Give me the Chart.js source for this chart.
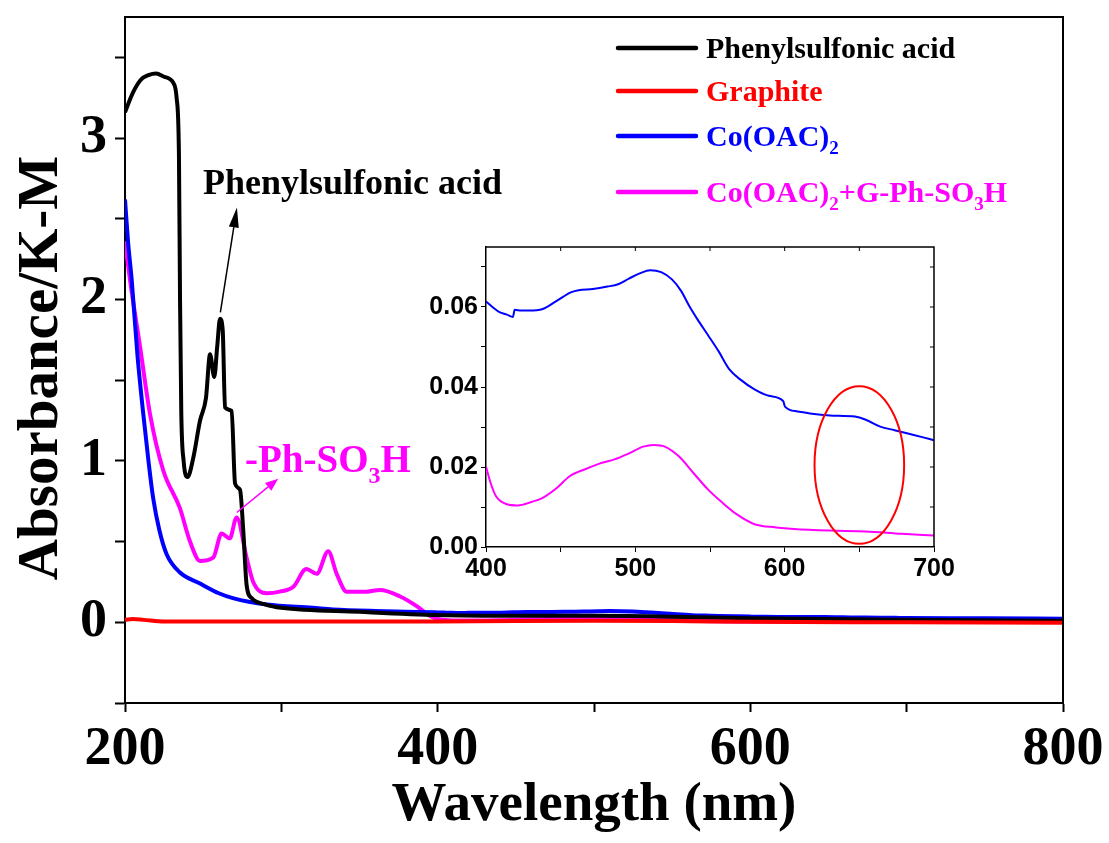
<!DOCTYPE html>
<html>
<head>
<meta charset="utf-8">
<script src="https://cdn.jsdelivr.net/npm/chart.js@4.4.1/dist/chart.umd.min.js"></script>
<style>
  html, body { margin: 0; padding: 0; background: #fff; }
  #wrap { position: relative; width: 1109px; height: 843px; }
  #main { position: absolute; left: 0; top: 0; }
  #inset { position: absolute; left: 400px; top: 240px; }
</style>
</head>
<body>
<div id="wrap">
  <canvas id="main" width="1109" height="843"></canvas>
  <canvas id="inset" width="560" height="347"></canvas>
</div>
<script>
// Phenylsulfonic acid (black)
const blackWl  = [200, 205, 210, 215, 220, 225, 231, 233, 234.5, 235.2, 236, 237.5, 240, 243.7, 248, 251.8, 254.4, 257.1, 259, 260.8, 262.5, 264, 268.2, 270.4, 273.6, 275.7, 277.8, 281, 290, 300, 350, 400, 450, 500, 550, 600, 700, 800]
const blackAbs = [3.16, 3.28, 3.36, 3.39, 3.40, 3.38, 3.34, 3.25, 2.9, 2.0, 1.3, 1.0, 0.90, 1.02, 1.25, 1.39, 1.66, 1.52, 1.71, 1.88, 1.81, 1.33, 1.31, 0.86, 0.82, 0.56, 0.23, 0.15, 0.11, 0.09, 0.065, 0.045, 0.04, 0.04, 0.035, 0.025, 0.015, 0.01]

// Graphite (red)
const redWl  = [200, 205, 212, 225, 300, 400, 500, 550, 600, 700, 800]
const redAbs = [0.015, 0.02, 0.015, 0.005, 0.005, 0.005, 0.01, 0.008, 0.003, 0.0, -0.003]

// Co(OAC)2 (blue), UV part + visible part (inset) + tail
const blueUvWl  = [200, 202, 204.3, 208, 211.7, 215, 218, 222, 226.7, 235, 248, 260, 269, 290.6, 320, 333, 360, 397]
const blueUvAbs = [2.62, 2.35, 2.12, 1.65, 1.29, 1.0, 0.77, 0.57, 0.42, 0.31, 0.24, 0.18, 0.15, 0.11, 0.09, 0.08, 0.07, 0.062]
const blueVisWl  = [400, 404.3, 409, 414, 418, 419.2, 423.6, 428.4, 438, 447.6, 457.2, 462, 471.6, 481.3, 488.5, 495.7, 502.9, 510, 517.3, 524.5, 530.5, 536.5, 541.3, 548.6, 555.8, 563, 570.2, 579.8, 589.4, 599, 600.2, 608.7, 618.3, 630.3, 647.1, 654.3, 664, 673.6, 683.2, 692.8, 700]
const blueVisAbs = [0.0614, 0.0600, 0.0587, 0.0581, 0.0575, 0.0593, 0.0591, 0.0591, 0.0595, 0.0616, 0.0637, 0.0642, 0.0645, 0.0651, 0.0657, 0.0671, 0.0684, 0.0692, 0.0687, 0.0669, 0.0641, 0.0600, 0.0571, 0.0530, 0.0489, 0.0444, 0.0419, 0.0394, 0.0378, 0.0365, 0.0351, 0.0339, 0.0333, 0.0329, 0.0326, 0.0318, 0.0301, 0.0292, 0.0283, 0.0274, 0.0267]
const blueTailWl  = [750, 800]
const blueTailAbs = [0.025, 0.022]

// Co(OAC)2+G-Ph-SO3H (magenta)
const magUvWl  = [200, 203.2, 209.6, 216, 224.5, 235, 241.6, 248, 256.4, 261.8, 267, 271.4, 277.8, 282, 290.6, 299, 307.7, 316, 322.6, 330, 335.4, 341.8, 354.6, 363, 376, 386.6, 395]
const magUvAbs = [2.36, 2.12, 1.71, 1.29, 0.94, 0.71, 0.50, 0.38, 0.40, 0.55, 0.52, 0.65, 0.40, 0.25, 0.18, 0.19, 0.22, 0.33, 0.30, 0.44, 0.30, 0.19, 0.19, 0.20, 0.16, 0.10, 0.04]
const magVisWl  = [400, 403.1, 406.7, 414, 421, 430.8, 438, 447.6, 456, 466.8, 476.4, 486, 495.7, 505.3, 512.5, 519.7, 529.3, 538.9, 548.6, 558.2, 567.8, 579.8, 594.2, 606.2, 630.3, 654.3, 678.4, 700]
const magVisAbs = [0.0201, 0.0160, 0.0127, 0.0107, 0.0104, 0.0113, 0.0123, 0.0148, 0.0177, 0.0195, 0.0209, 0.0219, 0.0234, 0.0251, 0.0255, 0.0251, 0.0226, 0.0185, 0.0144, 0.0111, 0.0082, 0.0057, 0.0049, 0.0045, 0.0041, 0.0039, 0.0033, 0.0029]
const magTailWl  = [750, 800]
const magTailAbs = [0.003, 0.002]

// axis ticks
const mainXLabels = [200, 400, 600, 800]
const mainYLabels = [0, 1, 2, 3]
const insetXLabels = [400, 500, 600, 700]
const insetYLabels = [0, 0.02, 0.04, 0.06]

const legendItems = [
  { color: '#000000', parts: [['Phenylsulfonic acid']] },
  { color: '#ff0000', parts: [['Graphite']] },
  { color: '#0000ff', parts: [['Co(OAC)'], ['2', 'sub']] },
  { color: '#ff00ff', parts: [['Co(OAC)'], ['2', 'sub'], ['+G-Ph-SO'], ['3', 'sub'], ['H']] }
]

const SERIF = '"Liberation Serif", "Times New Roman", serif'
const SANS = '"Liberation Sans", Arial, sans-serif'

function pts(xs, ys) { return xs.map((x, i) => ({ x: x, y: ys[i] })) }

function drawRich(ctx, parts, x, y, size, color) {
  ctx.fillStyle = color
  ctx.textBaseline = 'alphabetic'
  ctx.textAlign = 'left'
  for (const p of parts) {
    if (p[1] === 'sub') {
      ctx.font = 'bold ' + Math.round(size * 0.62) + 'px ' + SERIF
      ctx.fillText(p[0], x, y + size * 0.28)
    } else {
      ctx.font = 'bold ' + size + 'px ' + SERIF
      ctx.fillText(p[0], x, y)
    }
    x += ctx.measureText(p[0]).width
  }
}

function drawArrow(ctx, x1, y1, x2, y2, color, lw, headLen, headW) {
  const a = Math.atan2(y2 - y1, x2 - x1)
  const bx = x2 - headLen * Math.cos(a), by = y2 - headLen * Math.sin(a)
  ctx.strokeStyle = color; ctx.fillStyle = color; ctx.lineWidth = lw
  ctx.beginPath(); ctx.moveTo(x1, y1); ctx.lineTo(bx, by); ctx.stroke()
  ctx.beginPath()
  ctx.moveTo(x2, y2)
  ctx.lineTo(bx + headW * Math.sin(a), by - headW * Math.cos(a))
  ctx.lineTo(bx - headW * Math.sin(a), by + headW * Math.cos(a))
  ctx.closePath(); ctx.fill()
}

function noPad(s) { s.paddingTop = 0; s.paddingBottom = 0; s.paddingLeft = 0; s.paddingRight = 0 }

const mainDecor = {
  id: 'mainDecor',
  afterDraw(chart) {
    const { ctx, chartArea: ca, scales: { x, y } } = chart
    ctx.save()
    // frame top + right
    ctx.strokeStyle = '#000'; ctx.lineWidth = 2
    ctx.beginPath()
    ctx.moveTo(ca.left, ca.top); ctx.lineTo(ca.right, ca.top); ctx.lineTo(ca.right, ca.bottom)
    ctx.stroke()
    // y axis title
    ctx.save()
    ctx.translate(57, 368); ctx.rotate(-Math.PI / 2)
    ctx.font = 'bold 57px ' + SERIF
    ctx.fillStyle = '#000'; ctx.textAlign = 'center'; ctx.textBaseline = 'alphabetic'
    ctx.fillText('Absorbance/K-M', 0, 0)
    ctx.restore()
    // annotations
    drawArrow(ctx, x.getPixelForValue(261), y.getPixelForValue(1.92), x.getPixelForValue(271.6), y.getPixelForValue(2.57), '#000', 1.5, 20, 5)
    drawRich(ctx, [['Phenylsulfonic acid']], 203, 194, 36, '#000')
    drawArrow(ctx, x.getPixelForValue(271.5), y.getPixelForValue(0.68), x.getPixelForValue(298), y.getPixelForValue(0.89), '#ff00ff', 1.5, 13, 5)
    drawRich(ctx, [['-Ph-SO'], ['3', 'sub'], ['H']], 245, 472, 39, '#ff00ff')
    // legend
    const rowY = [48, 91, 136, 192]
    legendItems.forEach((it, i) => {
      ctx.strokeStyle = it.color; ctx.lineWidth = 4.5; ctx.lineCap = 'round'
      ctx.beginPath(); ctx.moveTo(618, rowY[i]); ctx.lineTo(696, rowY[i]); ctx.stroke()
      drawRich(ctx, it.parts, 706, rowY[i] + 10, 30, it.color)
    })
    ctx.restore()
  }
}

const insetDecor = {
  id: 'insetDecor',
  afterDraw(chart) {
    const { ctx, chartArea: ca, scales: { x, y } } = chart
    ctx.save()
    ctx.strokeStyle = '#000'; ctx.lineWidth = 1.5
    ctx.beginPath()
    ctx.moveTo(ca.left, ca.top); ctx.lineTo(ca.right, ca.top); ctx.lineTo(ca.right, ca.bottom)
    ctx.stroke()
    // inward ticks on top and right
    ctx.lineWidth = 1
    ctx.beginPath()
    for (let v = 450; v < 700; v += 50) {
      const px = x.getPixelForValue(v)
      ctx.moveTo(px, ca.top); ctx.lineTo(px, ca.top + 4)
    }
    for (let v = 0.01; v < 0.075; v += 0.01) {
      const py = y.getPixelForValue(v)
      ctx.moveTo(ca.right, py); ctx.lineTo(ca.right - 4, py)
    }
    ctx.stroke()
    // red ellipse around 650 nm
    const cx = x.getPixelForValue(650), cy = y.getPixelForValue(0.0205)
    const rx = x.getPixelForValue(680) - cx, ry = cy - y.getPixelForValue(0.0402)
    ctx.strokeStyle = '#ff0000'; ctx.lineWidth = 2
    ctx.beginPath(); ctx.ellipse(cx, cy, rx, ry, 0, 0, Math.PI * 2); ctx.stroke()
    ctx.restore()
  }
}

function line(data, color, w) {
  return { data: data, borderColor: color, borderWidth: w, pointRadius: 0, fill: false, cubicInterpolationMode: 'monotone' }
}

new Chart(document.getElementById('main'), {
  type: 'line',
  data: {
    datasets: [
      line(pts(redWl, redAbs), '#ff0000', 4),
      line(pts(blackWl, blackAbs), '#000000', 4),
      line(pts(blueUvWl.concat(blueVisWl, blueTailWl), blueUvAbs.concat(blueVisAbs, blueTailAbs)), '#0000ff', 4),
      line(pts(magUvWl.concat(magVisWl, magTailWl), magUvAbs.concat(magVisAbs, magTailAbs)), '#ff00ff', 4)
    ]
  },
  options: {
    responsive: false, animation: false, devicePixelRatio: 1,
    layout: { padding: { top: 17, right: 46, left: 0, bottom: 0 } },
    plugins: { legend: { display: false }, tooltip: { enabled: false } },
    scales: {
      x: {
        type: 'linear', min: 200, max: 800,
        afterFit(s) { s.height = 140; noPad(s) },
        border: { display: true, color: '#000', width: 2 },
        grid: { drawOnChartArea: false, color: '#000', tickLength: 9, tickWidth: 2 },
        ticks: {
          stepSize: 100, includeBounds: false, padding: 6, color: '#000', maxRotation: 0, autoSkip: false,
          font: { family: SERIF, size: 54, weight: 'bold' },
          callback: v => mainXLabels.includes(v) ? String(v) : ''
        },
        title: { display: true, text: 'Wavelength (nm)', color: '#000', padding: { top: 14 }, font: { family: SERIF, size: 55, weight: 'bold' } }
      },
      y: {
        type: 'linear', min: -0.5, max: 3.75,
        afterFit(s) { s.width = 125; noPad(s) },
        border: { display: true, color: '#000', width: 2 },
        grid: { drawOnChartArea: false, color: '#000', tickLength: 10, tickWidth: 2 },
        ticks: {
          stepSize: 0.5, includeBounds: false, padding: 8, color: '#000',
          font: { family: SERIF, size: 54, weight: 'bold' },
          callback: v => mainYLabels.includes(v) ? String(v) : ''
        }
      }
    }
  },
  plugins: [mainDecor]
})

new Chart(document.getElementById('inset'), {
  type: 'line',
  data: {
    datasets: [
      line(pts(blueVisWl, blueVisAbs), '#0000ff', 2),
      line(pts(magVisWl, magVisAbs), '#ff00ff', 2)
    ]
  },
  options: {
    responsive: false, animation: false, devicePixelRatio: 1,
    layout: { padding: { top: 7, right: 26, left: 0, bottom: 0 } },
    plugins: { legend: { display: false }, tooltip: { enabled: false } },
    scales: {
      x: {
        type: 'linear', min: 400, max: 700,
        afterFit(s) { s.height = 40; noPad(s) },
        border: { display: true, color: '#000', width: 1.5 },
        grid: { drawOnChartArea: false, color: '#000', tickLength: 5, tickWidth: 1 },
        ticks: {
          stepSize: 50, includeBounds: false, padding: 2, color: '#000', maxRotation: 0, autoSkip: false,
          font: { family: SANS, size: 25, weight: 'bold' },
          callback: v => insetXLabels.includes(v) ? String(v) : ''
        }
      },
      y: {
        type: 'linear', min: 0, max: 0.075,
        afterFit(s) { s.width = 86; noPad(s) },
        border: { display: true, color: '#000', width: 1.5 },
        grid: { drawOnChartArea: false, color: '#000', tickLength: 5, tickWidth: 1 },
        ticks: {
          stepSize: 0.01, includeBounds: false, padding: 3, color: '#000',
          font: { family: SANS, size: 25, weight: 'bold' },
          callback: v => {
            const r = Math.round(v * 100) / 100
            return insetYLabels.includes(r) ? r.toFixed(2) : ''
          }
        }
      }
    }
  },
  plugins: [insetDecor]
})
</script>
</body>
</html>
